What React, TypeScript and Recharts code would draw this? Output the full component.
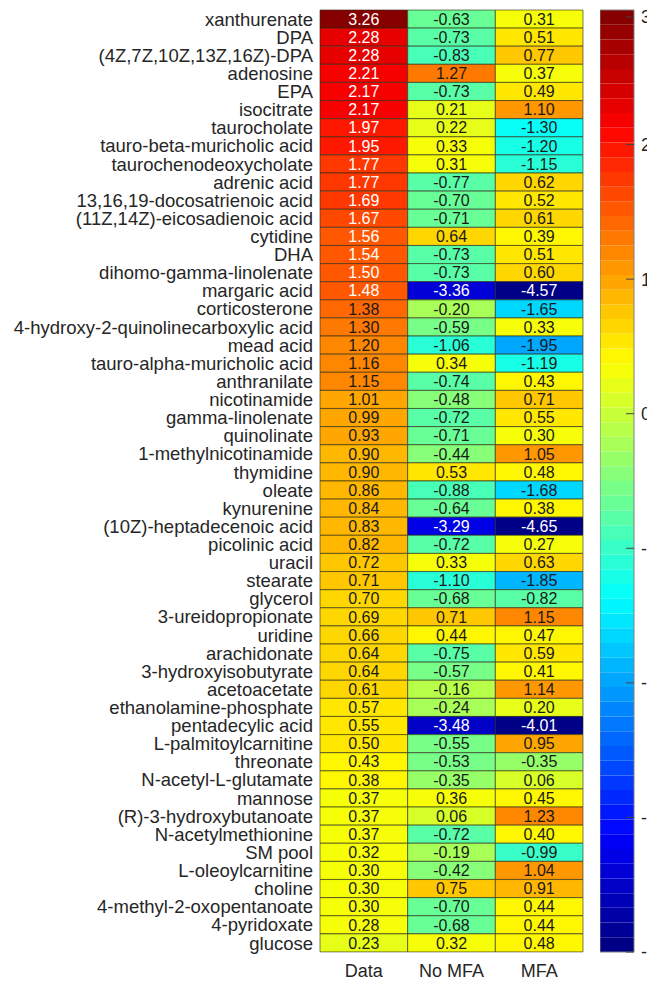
import React from "react";
import {
  BarChart,
  Bar,
  Cell,
  LabelList,
  XAxis,
  YAxis,
  ComposedChart,
  Line,
  ReferenceArea,
} from "recharts";

const metabolites = [
  "xanthurenate", "DPA", "(4Z,7Z,10Z,13Z,16Z)-DPA", "adenosine", "EPA", "isocitrate",
  "taurocholate", "tauro-beta-muricholic acid", "taurochenodeoxycholate", "adrenic acid",
  "13,16,19-docosatrienoic acid", "(11Z,14Z)-eicosadienoic acid", "cytidine", "DHA",
  "dihomo-gamma-linolenate", "margaric acid", "corticosterone",
  "4-hydroxy-2-quinolinecarboxylic acid", "mead acid", "tauro-alpha-muricholic acid",
  "anthranilate", "nicotinamide", "gamma-linolenate", "quinolinate", "1-methylnicotinamide",
  "thymidine", "oleate", "kynurenine", "(10Z)-heptadecenoic acid", "picolinic acid", "uracil",
  "stearate", "glycerol", "3-ureidopropionate", "uridine", "arachidonate",
  "3-hydroxyisobutyrate", "acetoacetate", "ethanolamine-phosphate", "pentadecylic acid",
  "L-palmitoylcarnitine", "threonate", "N-acetyl-L-glutamate", "mannose",
  "(R)-3-hydroxybutanoate", "N-acetylmethionine", "SM pool", "L-oleoylcarnitine", "choline",
  "4-methyl-2-oxopentanoate", "4-pyridoxate", "glucose",
];

const dataVals = [
  3.26, 2.28, 2.28, 2.21, 2.17, 2.17, 1.97, 1.95, 1.77, 1.77, 1.69, 1.67, 1.56, 1.54, 1.5,
  1.48, 1.38, 1.3, 1.2, 1.16, 1.15, 1.01, 0.99, 0.93, 0.9, 0.9, 0.86, 0.84, 0.83, 0.82, 0.72,
  0.71, 0.7, 0.69, 0.66, 0.64, 0.64, 0.61, 0.57, 0.55, 0.5, 0.43, 0.38, 0.37, 0.37, 0.37,
  0.32, 0.3, 0.3, 0.3, 0.28, 0.23,
];

const noMfaVals = [
  -0.63, -0.73, -0.83, 1.27, -0.73, 0.21, 0.22, 0.33, 0.31, -0.77, -0.7, -0.71, 0.64, -0.73,
  -0.73, -3.36, -0.2, -0.59, -1.06, 0.34, -0.74, -0.48, -0.72, -0.71, -0.44, 0.53, -0.88,
  -0.64, -3.29, -0.72, 0.33, -1.1, -0.68, 0.71, 0.44, -0.75, -0.57, -0.16, -0.24, -3.48,
  -0.55, -0.53, -0.35, 0.36, 0.06, -0.72, -0.19, -0.42, 0.75, -0.7, -0.68, 0.32,
];

const mfaVals = [
  0.31, 0.51, 0.77, 0.37, 0.49, 1.1, -1.3, -1.2, -1.15, 0.62, 0.52, 0.61, 0.39, 0.51, 0.6,
  -4.57, -1.65, 0.33, -1.95, -1.19, 0.43, 0.71, 0.55, 0.3, 1.05, 0.48, -1.68, 0.38, -4.65,
  0.27, 0.63, -1.85, -0.82, 1.15, 0.47, 0.59, 0.41, 1.14, 0.2, -4.01, 0.95, -0.35, 0.06,
  0.45, 1.23, 0.4, -0.99, 1.04, 0.91, 0.44, 0.44, 0.48,
];

const columnNames = ["Data", "No MFA", "MFA"];
const colorbarTicks = [-4, -3, -2, -1, 0, 1, 2, 3];
const cMin = -4;
const cMax = 3;
const nColors = 64;

const font = "'Liberation Sans', Arial, sans-serif";

const clamp = (v: number) => Math.max(0, Math.min(1, v));

// jet colormap, 64 levels like MATLAB
const jetRgb = (v: number) => {
  const t = clamp((v - cMin) / (cMax - cMin));
  const k = Math.min(nColors - 1, Math.floor(t * nColors));
  const tc = (k + 0.5) / nColors;
  return [
    clamp(1.5 - Math.abs(4 * tc - 3)),
    clamp(1.5 - Math.abs(4 * tc - 2)),
    clamp(1.5 - Math.abs(4 * tc - 1)),
  ];
};
const jet = (v: number) => {
  const [r, g, b] = jetRgb(v);
  return `rgb(${Math.round(r * 255)},${Math.round(g * 255)},${Math.round(b * 255)})`;
};
const textColor = (v: number) => {
  const [r, g, b] = jetRgb(v);
  return 0.2126 * r + 0.7152 * g + 0.0722 * b < 0.5 ? "#ffffff" : "#1a1a1a";
};

const rows = metabolites.map((name, i) => ({
  name,
  data: dataVals[i],
  noMfa: noMfaVals[i],
  mfa: mfaVals[i],
  w0: 1,
  w1: 1,
  w2: 1,
}));

const series = [
  { key: "data", w: "w0" },
  { key: "noMfa", w: "w1" },
  { key: "mfa", w: "w2" },
];

const bands = Array.from({ length: nColors }, (_, k) => ({
  lo: cMin + (k * (cMax - cMin)) / nColors,
  hi: cMin + ((k + 1) * (cMax - cMin)) / nColors,
}));

const CellLabel = (props: any) => {
  const { x, y, width, height, value } = props;
  return (
    <text
      x={x + width / 2}
      y={y + height / 2}
      dy="0.36em"
      textAnchor="middle"
      fontSize={16}
      fontFamily={font}
      fill={textColor(value)}
    >
      {Number(value).toFixed(2)}
    </text>
  );
};

const ColorbarTick = (props: any) => {
  const { x, y, payload } = props;
  const axisX = x - 7;
  return (
    <g>
      <line x1={axisX - 8} x2={axisX} y1={y} y2={y} stroke="#444" strokeWidth={1} />
      <text x={x} y={y} dy="0.36em" fontSize={18} fontFamily={font} fill="#262626">
        {payload.value}
      </text>
    </g>
  );
};

const App = () => {
  return (
    <div style={{ position: "relative", width: 647, height: 973 }}>
      <style>{"html{overflow:hidden;}"}</style>
      <div style={{ position: "absolute", left: 0, top: 0, width: 600, height: 973 }}>
        <BarChart
          width={600}
          height={973}
          data={rows}
          layout="vertical"
          barCategoryGap={0}
          margin={{ top: 2, right: 25, bottom: 0, left: 0 }}
        >
          <XAxis
            type="number"
            domain={[0, 3]}
            ticks={[0.5, 1.5, 2.5]}
            tickFormatter={(v: number) => columnNames[Math.floor(v)]}
            axisLine={false}
            tickLine={false}
            tickSize={0}
            tickMargin={12}
            height={29}
            tick={{ fontSize: 18, fontFamily: font, fill: "#262626" }}
          />
          <YAxis
            type="category"
            dataKey="name"
            width={312}
            interval={0}
            axisLine={false}
            tickLine={false}
            tickSize={0}
            tickMargin={7}
            tick={{ fontSize: 18.5, fontFamily: font, fill: "#262626" }}
          />
          {series.map((s) => (
            <Bar key={s.key} dataKey={s.w} stackId="a" isAnimationActive={false}>
              {rows.map((r: any, i) => (
                <Cell
                  key={i}
                  fill={jet(r[s.key])}
                  stroke="rgba(40,40,20,0.6)"
                  strokeWidth={1}
                />
              ))}
              <LabelList dataKey={s.key} content={CellLabel} />
            </Bar>
          ))}
        </BarChart>
      </div>
      <div style={{ position: "absolute", left: 592, top: 0, width: 55, height: 973 }}>
        <ComposedChart
          width={55}
          height={973}
          data={[{ x: 0 }, { x: 1 }]}
          margin={{ top: 2, right: 0, bottom: 29, left: 0 }}
        >
          <XAxis type="number" dataKey="x" domain={[0, 1]} hide />
          <YAxis
            type="number"
            orientation="right"
            domain={[cMin, cMax]}
            ticks={colorbarTicks}
            width={21}
            axisLine={false}
            tickLine={false}
            tickSize={0}
            tickMargin={7}
            tick={ColorbarTick}
          />
          {bands.map((b, k) => (
            <ReferenceArea
              key={k}
              y1={b.lo}
              y2={b.hi}
              fill={jet((b.lo + b.hi) / 2)}
              fillOpacity={1}
              stroke="none"
            />
          ))}
          <ReferenceArea
            y1={cMin}
            y2={cMax}
            fill="none"
            stroke="#7f7f7f"
            strokeWidth={1}
          />
          <Line dataKey="x" stroke="none" dot={false} isAnimationActive={false} />
        </ComposedChart>
      </div>
    </div>
  );
};

export default App;
